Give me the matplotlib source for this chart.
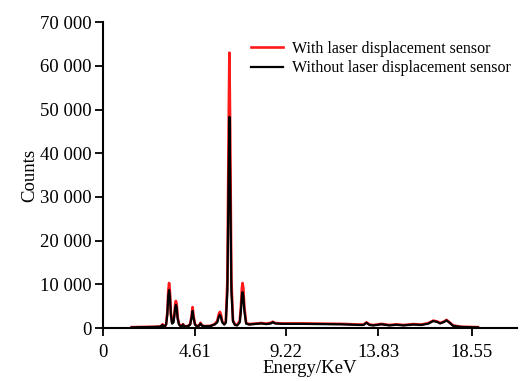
import matplotlib.pyplot as plt
from matplotlib.ticker import FuncFormatter

plt.rcParams['font.family'] = ['Liberation Serif', 'DejaVu Serif']

# EDS spectrum (keV, counts)
energy = [1.45, 2.00, 2.60, 2.88, 2.96, 3.00, 3.04, 3.12, 3.18, 3.24, 3.29, 3.33, 3.37, 3.42,
          3.48, 3.55, 3.60, 3.64, 3.67, 3.71, 3.76, 3.83, 3.92, 3.98, 4.03, 4.08, 4.15, 4.30,
          4.39, 4.46, 4.51, 4.56, 4.63, 4.72, 4.84, 4.91, 4.98, 5.10, 5.40, 5.62, 5.75, 5.83,
          5.88, 5.93, 6.00, 6.10, 6.18, 6.26, 6.32, 6.36, 6.40, 6.46, 6.54, 6.64, 6.75, 6.88,
          6.94, 6.99, 7.02, 7.06, 7.11, 7.20, 7.35, 7.60, 7.97, 8.20, 8.45, 8.54, 8.65, 9.00,
          10.00, 11.00, 12.00, 12.90, 13.10, 13.25, 13.40, 13.60, 14.00, 14.40, 14.76, 15.10,
          15.60, 16.00, 16.35, 16.60, 16.80, 16.95, 17.15, 17.27, 17.40, 17.60, 18.00, 18.40,
          18.85]
with_sensor = [200, 250, 300, 350, 600, 850, 600, 400, 900, 3500, 8500, 10300, 8500, 3500,
               1200, 1500, 3500, 5600, 6200, 5600, 2500, 900, 400, 500, 900, 500, 400, 500,
               900, 2800, 4800, 2800, 900, 450, 600, 1200, 600, 450, 500, 900, 1600, 3200,
               3700, 3200, 1500, 900, 1400, 11000, 45000, 63000, 45000, 11000, 1800, 800, 700,
               1600, 5000, 9200, 10300, 9200, 5000, 1200, 900, 1000, 1150, 1000, 1200, 1450,
               1150, 1050, 1050, 1000, 950, 800, 800, 1300, 800, 700, 950, 700, 850, 700,
               900, 800, 1100, 1700, 1500, 1150, 1500, 1850, 1400, 600, 300, 250, 200]
without_sensor = [150, 200, 250, 300, 500, 700, 500, 350, 800, 3000, 7300, 8700, 7300, 3000,
                  1000, 1300, 3000, 4800, 5300, 4800, 2100, 800, 350, 450, 800, 450, 350, 450,
                  800, 2300, 3900, 2300, 800, 400, 550, 1000, 550, 400, 450, 800, 1300, 2600,
                  3000, 2600, 1300, 800, 1200, 8500, 34000, 48300, 34000, 8500, 1500, 700, 600,
                  1300, 4000, 7300, 8200, 7300, 4000, 1000, 800, 900, 1050, 900, 1050, 1350,
                  1050, 950, 950, 900, 850, 700, 700, 1200, 700, 600, 850, 600, 750, 600,
                  800, 700, 1000, 1600, 1400, 1050, 1400, 1750, 1300, 500, 250, 200, 150]

x_ticks = [0, 4.61, 9.22, 13.83, 18.55]
y_ticks = [0, 10000, 20000, 30000, 40000, 50000, 60000, 70000]

fig = plt.figure(figsize=(5.30, 3.81), dpi=100)
ax = fig.add_axes([0.194, 0.139, 0.781, 0.803])

ax.plot(energy, with_sensor, color='#ff1a1a', lw=1.9, label='With laser displacement sensor')
ax.plot(energy, without_sensor, color='black', lw=1.6, label='Without laser displacement sensor')

ax.set_xlim(0, 20.8)
ax.set_ylim(0, 70000)
ax.set_xticks(x_ticks)
ax.set_xticklabels(['0', '4.61', '9.22', '13.83', '18.55'])
ax.set_yticks(y_ticks)
ax.yaxis.set_major_formatter(FuncFormatter(lambda v, p: f'{int(v):,}'.replace(',', ' ')))

for s in ['top', 'right']:
    ax.spines[s].set_visible(False)
for s in ['left', 'bottom']:
    ax.spines[s].set_linewidth(1.5)
ax.tick_params(direction='out', length=6, width=1.3, labelsize=13.5, pad=2)
ax.tick_params(axis='x', pad=5.5)

ax.set_xlabel('Energy/KeV', fontsize=13.5, labelpad=-1)
ax.set_ylabel('Counts', fontsize=13.5, labelpad=1)

ax.legend(loc='upper left', bbox_to_anchor=(0.33, 0.975), frameon=False, fontsize=11.5,
          handlelength=2.0, handletextpad=0.6, labelspacing=0.2, borderaxespad=0.3)

fig.savefig('out.png', dpi=100)
